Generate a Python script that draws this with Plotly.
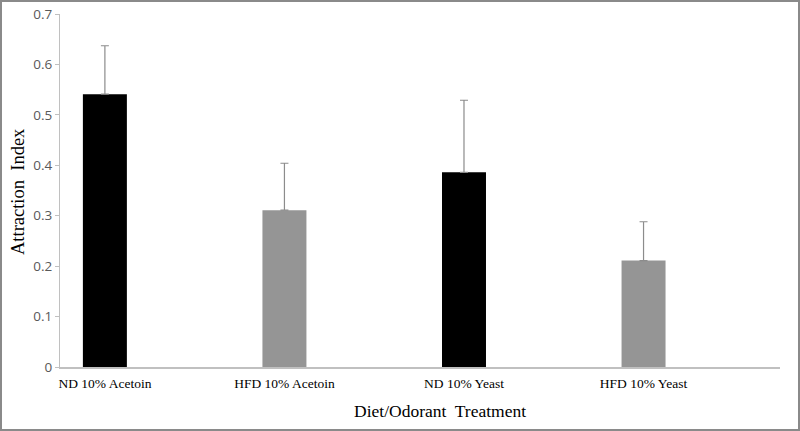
import plotly.graph_objects as go

categories = ["ND 10% Acetoin", "HFD 10% Acetoin", "ND 10% Yeast", "HFD 10% Yeast"]
values = [0.541, 0.311, 0.386, 0.211]
errors_plus = [0.096, 0.093, 0.143, 0.077]
bar_colors = ["#000000", "#959595", "#000000", "#959595"]
y_ticks = [0, 0.1, 0.2, 0.3, 0.4, 0.5, 0.6, 0.7]
y_ticklabels = ["0", "0.1", "0.2", "0.3", "0.4", "0.5", "0.6", "0.7"]

W, H = 800, 431
ml, mr, mt, mb = 60, 20, 14, 64
pw, ph = W - ml - mr, H - mt - mb

fig = go.Figure()
fig.add_trace(go.Bar(
    x=list(range(len(categories))),
    y=values,
    width=0.245,
    marker=dict(color=bar_colors, line=dict(width=0)),
    error_y=dict(type="data", symmetric=False, array=errors_plus,
                 arrayminus=[0] * len(values),
                 color="#8c8c8c", thickness=1.2, width=4),
    showlegend=False,
))

fig.update_layout(
    width=W, height=H,
    margin=dict(l=ml, r=mr, t=mt, b=mb, autoexpand=False),
    paper_bgcolor="white", plot_bgcolor="white",
    xaxis=dict(
        range=[-0.25, 3.76], automargin=False,
        tickmode="array", tickvals=list(range(len(categories))), ticktext=categories,
        showgrid=False, zeroline=False,
        showline=True, linecolor="#c0c0c0", linewidth=1.5,
        ticks="", ticklabelstandoff=3,
        tickfont=dict(family="Liberation Serif", size=13.5, color="#000000"),
    ),
    yaxis=dict(
        range=[0, 0.7], automargin=False,
        tickmode="array", tickvals=y_ticks, ticktext=y_ticklabels,
        showgrid=False, zeroline=False,
        showline=True, linecolor="#c0c0c0", linewidth=1,
        ticks="outside", ticklen=4, tickcolor="#c0c0c0",
        tickfont=dict(family="Open Sans", size=13.5, color="#595959"),
    ),
    annotations=[
        dict(text="Attraction  Index", xref="paper", yref="paper",
             x=(18 - ml) / pw, y=1 - (192 - mt) / ph, showarrow=False,
             textangle=-90, xanchor="center", yanchor="middle",
             font=dict(family="Liberation Serif", size=18.5, color="#000000")),
        dict(text="Diet/Odorant  Treatment", xref="paper", yref="paper",
             x=(440 - ml) / pw, y=1 - (411 - mt) / ph, showarrow=False,
             xanchor="center", yanchor="middle",
             font=dict(family="Liberation Serif", size=17.5, color="#000000")),
    ],
    shapes=[
        dict(type="rect", xref="paper", yref="paper",
             x0=(1 - ml) / pw, x1=(W - 1 - ml) / pw,
             y0=1 - (H - 1 - mt) / ph, y1=1 - (1 - mt) / ph,
             line=dict(color="#8a8a8a", width=2), fillcolor="rgba(0,0,0,0)",
             layer="above"),
    ],
)

fig.write_html("out.html", config={"displayModeBar": False},
               post_script="document.body.style.margin='0';document.body.style.overflow='hidden';")
